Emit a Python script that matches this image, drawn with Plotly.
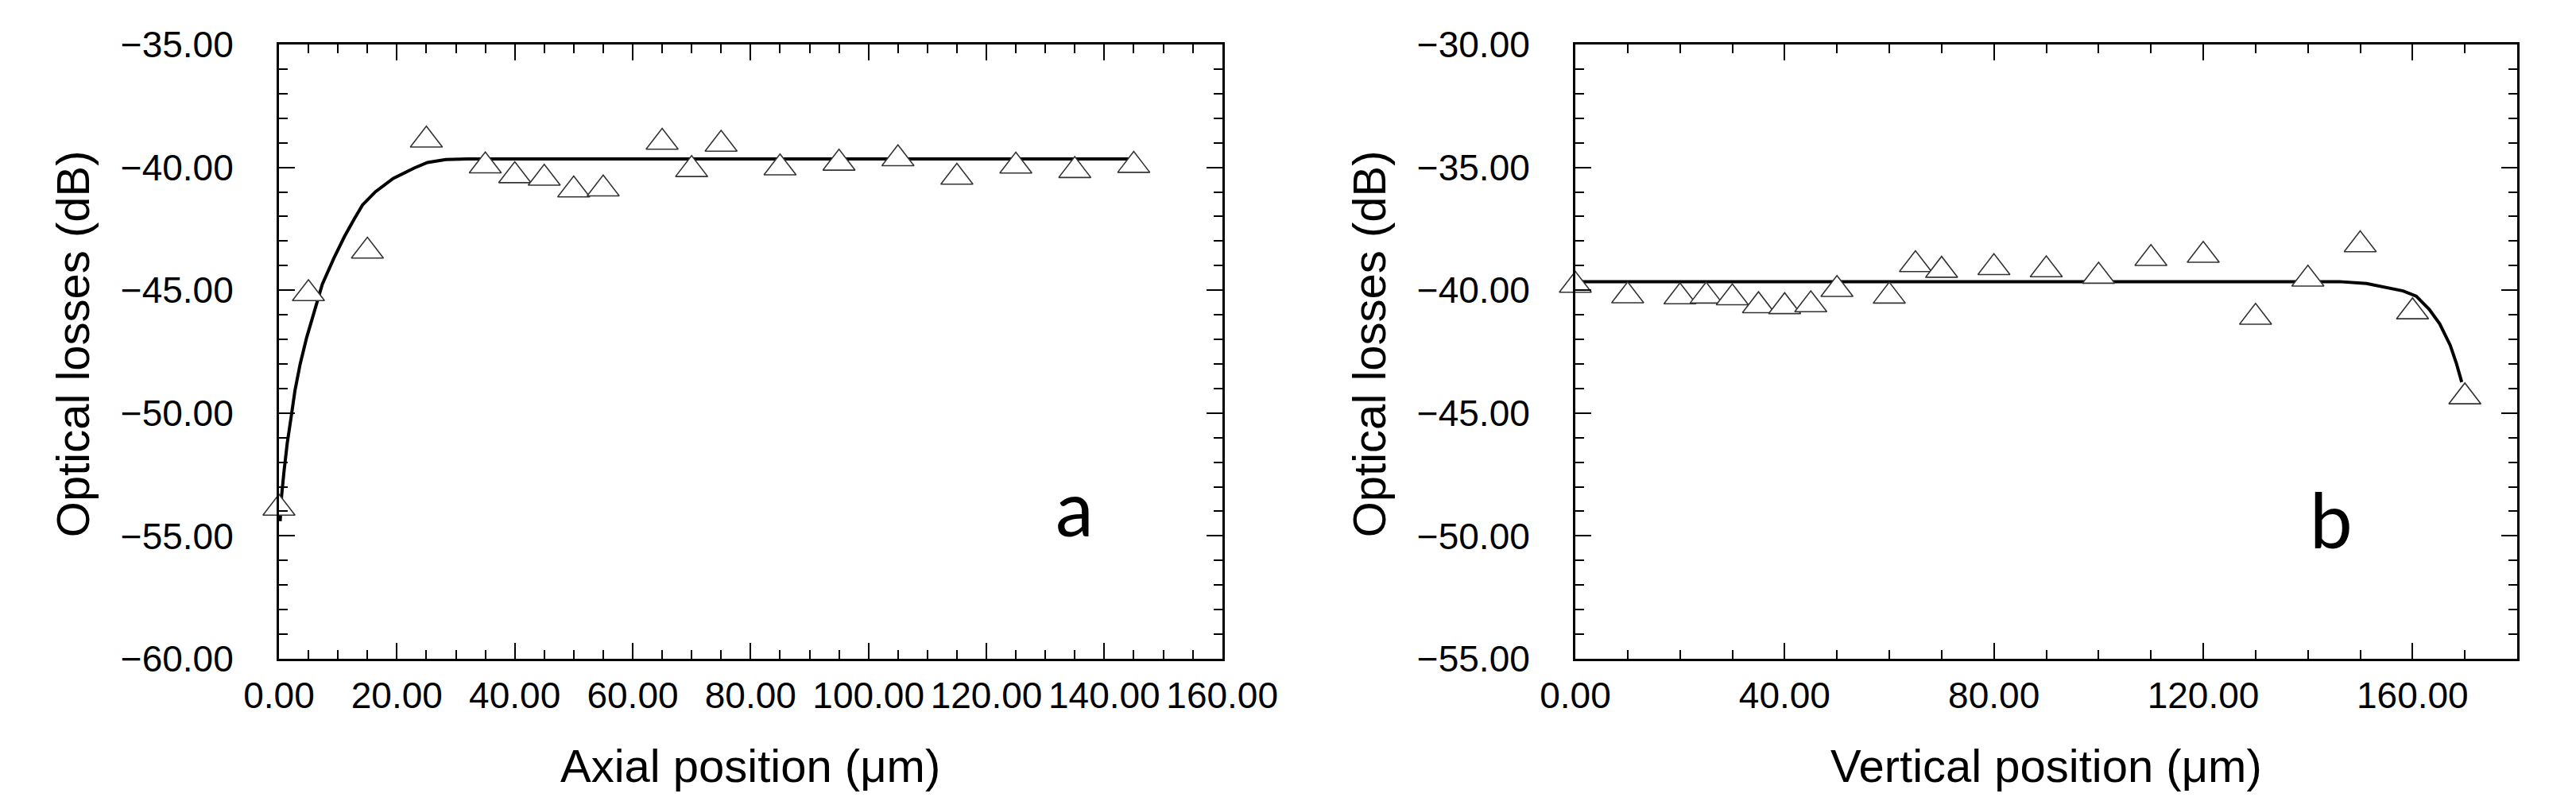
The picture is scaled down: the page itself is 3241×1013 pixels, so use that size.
import plotly.graph_objects as go

# ---- Panel a: axial position ----
axial_x = [0, 5, 15, 25, 35, 40, 45, 50, 55, 65, 70, 75, 85, 95, 105, 115, 125, 135, 145]
axial_loss = [-53.87, -45.14, -43.41, -38.89, -39.94, -40.34, -40.44, -40.92, -40.88, -38.98,
              -40.09, -39.06, -40.02, -39.83, -39.65, -40.40, -39.95, -40.13, -39.92]
axial_fit_x = [0.2, 0.44, 0.88, 1.40, 2.07, 2.72, 3.6, 4.7, 6.03, 7.35, 9.33, 11.1, 12.85,
               14.17, 16.38, 19.4, 23.0, 25.2, 28.3, 32.0, 145.0]
axial_fit_y = [-54.4, -53.38, -52.31, -51.23, -50.15, -49.07, -48.0, -46.92, -45.84, -44.76,
               -43.69, -42.82, -42.07, -41.53, -40.99, -40.45, -40.02, -39.80, -39.68, -39.66, -39.66]

# ---- Panel b: vertical position ----
vert_x = [0, 10, 20, 25, 30, 35, 40, 45, 50, 60, 65, 70, 80, 90, 100, 110, 120, 130, 140, 150, 160, 170]
vert_loss = [-39.80, -40.23, -40.27, -40.24, -40.31, -40.63, -40.67, -40.59, -39.97, -40.24, -38.96,
             -39.19, -39.08, -39.17, -39.43, -38.71, -38.58, -41.10, -39.55, -38.15, -40.88, -44.34]
vert_fit_x = [0, 146.0, 151.2, 155.2, 158.2, 160.7, 163.2, 165.2, 167.2, 168.4, 169.4]
vert_fit_y = [-39.65, -39.65, -39.73, -39.92, -40.03, -40.24, -40.78, -41.37, -42.24, -42.99, -43.74]

x_title_a = "Axial position (μm)"
x_title_b = "Vertical position (μm)"
y_title = "Optical losses (dB)"
panel_labels = ["a", "b"]

FONT = "Arial, Liberation Sans, sans-serif"
marker = dict(symbol="triangle-up", size=35, color="white", line=dict(color="#333333", width=1.6))
fit_line = dict(color="black", width=4)

fig = go.Figure()
fig.add_trace(go.Scatter(x=axial_fit_x, y=axial_fit_y, mode="lines", line=fit_line,
                         xaxis="x", yaxis="y", showlegend=False, hoverinfo="skip", cliponaxis=False))
fig.add_trace(go.Scatter(x=axial_x, y=axial_loss, mode="markers", marker=marker,
                         xaxis="x", yaxis="y", showlegend=False, cliponaxis=False))
fig.add_trace(go.Scatter(x=vert_fit_x, y=vert_fit_y, mode="lines", line=fit_line,
                         xaxis="x2", yaxis="y2", showlegend=False, hoverinfo="skip", cliponaxis=False))
fig.add_trace(go.Scatter(x=vert_x, y=vert_loss, mode="markers", marker=marker,
                         xaxis="x2", yaxis="y2", showlegend=False, cliponaxis=False))


def axis(rng, dtick, minor_dtick, standoff, **kw):
    d = dict(range=rng, dtick=dtick, tick0=0, showline=True, linecolor="black", linewidth=3,
             mirror="ticks", ticks="inside", ticklen=20, tickwidth=2, tickcolor="black",
             showgrid=False, zeroline=False, tickformat=".2f",
             tickfont=dict(family=FONT, size=46, color="black"),
             ticklabelstandoff=standoff,
             minor=dict(ticks="inside", ticklen=11, tickwidth=2, tickcolor="black",
                        dtick=minor_dtick, showgrid=False))
    d.update(kw)
    return d


fig.update_layout(
    width=3241, height=1013,
    margin=dict(l=343, r=24, t=48, b=192),
    paper_bgcolor="white", plot_bgcolor="white",
    xaxis=axis([0, 160], 20, 5, 4, domain=[0, 0.4214], anchor="y"),
    yaxis=axis([-60, -35], 5, 1, 45, domain=[0, 1], anchor="x"),
    xaxis2=axis([0, 180], 40, 10, 4, domain=[0.5792, 1], anchor="y2"),
    yaxis2=axis([-55, -30], 5, 1, 45, domain=[0, 1], anchor="x2"),
)

annos = [
    dict(text=x_title_a, xref="x domain", yref="y domain", x=0.5, y=0, yshift=-134,
         xanchor="center", yanchor="middle", showarrow=False,
         font=dict(family=FONT, size=58, color="black")),
    dict(text=x_title_b, xref="x2 domain", yref="y2 domain", x=0.5, y=0, yshift=-134,
         xanchor="center", yanchor="middle", showarrow=False,
         font=dict(family=FONT, size=58, color="black")),
    dict(text=y_title, xref="x domain", yref="y domain", x=0, y=0.512, xshift=-260,
         xanchor="center", yanchor="middle", textangle=-90, showarrow=False,
         font=dict(family=FONT, size=58, color="black")),
    dict(text=y_title, xref="x2 domain", yref="y2 domain", x=0, y=0.512, xshift=-260,
         xanchor="center", yanchor="middle", textangle=-90, showarrow=False,
         font=dict(family=FONT, size=58, color="black")),
    dict(text=panel_labels[0], xref="x", yref="y", x=135, y=-53.8,
         xanchor="center", yanchor="middle", showarrow=False,
         font=dict(family="Lato, Open Sans, sans-serif", size=96, color="black")),
    dict(text=panel_labels[1], xref="x2", yref="y2", x=144.5, y=-49.3,
         xanchor="center", yanchor="middle", showarrow=False,
         font=dict(family="Lato, Open Sans, sans-serif", size=96, color="black")),
]
fig.update_layout(annotations=annos)

fig.write_html("out.html")
